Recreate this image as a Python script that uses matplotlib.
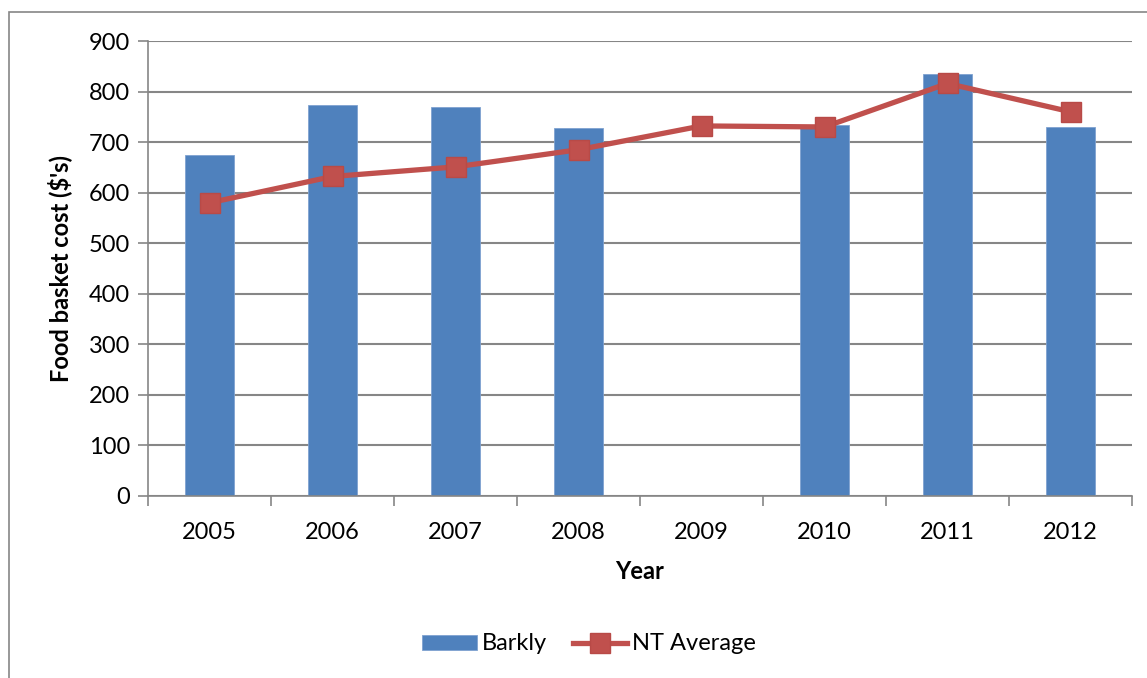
import matplotlib
matplotlib.use("Agg")
import matplotlib.pyplot as plt
from matplotlib.patches import Rectangle
import numpy as np

# data
years = ["2005", "2006", "2007", "2008", "2009", "2010", "2011", "2012"]
barkly = [675, 773, 770, 727, np.nan, 734, 835, 730]
nt_average = [580, 632, 651, 685, 732, 730, 816, 760]
y_ticks = [0, 100, 200, 300, 400, 500, 600, 700, 800, 900]

plt.rcParams['font.family'] = ['Lato', 'DejaVu Sans']

fig = plt.figure(figsize=(11.47, 6.78), dpi=100)
ax = fig.add_axes([148 / 1147, 1 - 496 / 678, (1132 - 148) / 1147, (496 - 41) / 678])

x = np.arange(len(years))
bars = ax.bar(x, barkly, width=0.4, color='#4F81BD', edgecolor='#7FA2D0', linewidth=0.6,
              label='Barkly', zorder=2)
line, = ax.plot(x, nt_average, color='#C0504D', linewidth=3.8, marker='s', markersize=15,
                markerfacecolor='#C0504D', markeredgecolor='#B84A47', label='NT Average',
                zorder=3)

ax.set_xlim(-0.5, len(years) - 0.5)
ax.set_ylim(0, 900)
ax.set_yticks(y_ticks)
ax.set_xticks(x)
ax.set_xticklabels(years)
ax.set_xticks(np.arange(len(years) + 1) - 0.5, minor=True)
ax.tick_params(axis='x', which='major', length=0, pad=19, labelsize=17)
ax.tick_params(axis='x', which='minor', length=7, width=1.2, color='#868686', direction='out')
ax.tick_params(axis='y', length=7, width=1.2, color='#868686', labelsize=17, pad=6)

ax.yaxis.grid(True, color='#868686', linewidth=1.5, zorder=0)
ax.set_axisbelow(True)
for side in ['top', 'right']:
    ax.spines[side].set_visible(False)
for side in ['left', 'bottom']:
    ax.spines[side].set_color('#868686')
    ax.spines[side].set_linewidth(1.2)

ax.set_xlabel('Year', fontsize=17, fontweight='bold', labelpad=12)
ax.set_ylabel("Food basket cost ($'s)", fontsize=17, fontweight='bold', labelpad=12)

ax.legend(handles=[bars, line], loc='center', bbox_to_anchor=(589 / 1147, 1 - 644 / 678),
          bbox_transform=fig.transFigure, ncol=2, frameon=False, fontsize=17,
          handlelength=2.3, handleheight=0.6, handletextpad=0.2, columnspacing=1.1)

# outer chart frame
fig.patches.append(Rectangle((9 / 1147, -0.1), 1.1, 0.1 + (678 - 12) / 678,
                             transform=fig.transFigure, fill=False,
                             edgecolor='#868686', linewidth=1.2))

fig.savefig('out.png', dpi=100)
